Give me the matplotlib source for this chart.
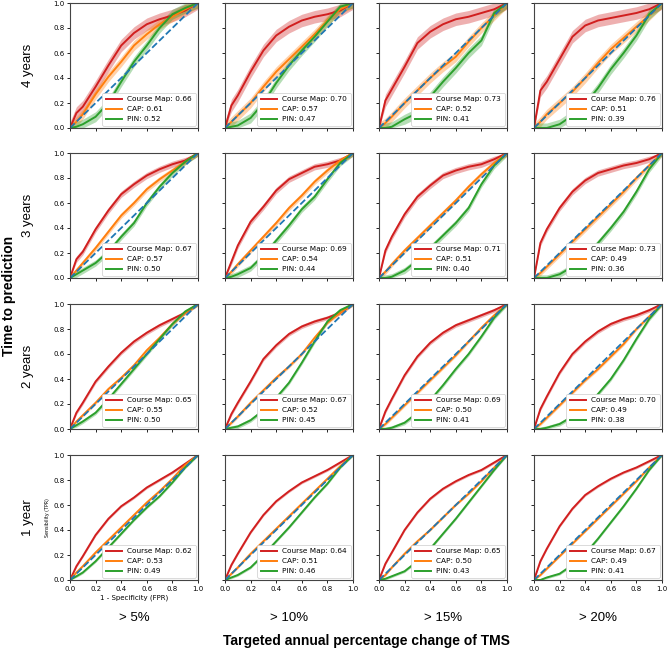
import matplotlib
matplotlib.use("Agg")
import matplotlib.pyplot as plt
import numpy as np

plt.rcParams['font.family'] = ['DejaVu Sans']
LAB_FONT = ['Liberation Sans', 'DejaVu Sans']

rows = ["4 years", "3 years", "2 years", "1 year"]
cols = ["> 5%", "> 10%", "> 15%", "> 20%"]
fpr = [0, 0.05, 0.1, 0.2, 0.3, 0.4, 0.5, 0.6, 0.7, 0.8, 0.9, 1.0]

# TPR values: [row][col]
cm_tpr = [
    [[0, 0.12, 0.17, 0.33, 0.50, 0.66, 0.76, 0.83, 0.87, 0.90, 0.94, 1.0],
     [0, 0.18, 0.26, 0.45, 0.62, 0.74, 0.81, 0.86, 0.89, 0.91, 0.94, 1.0],
     [0, 0.22, 0.31, 0.49, 0.68, 0.77, 0.83, 0.87, 0.89, 0.92, 0.95, 1.0],
     [0, 0.30, 0.37, 0.55, 0.73, 0.82, 0.86, 0.88, 0.90, 0.92, 0.95, 1.0]],
    [[0, 0.15, 0.21, 0.39, 0.54, 0.67, 0.75, 0.82, 0.87, 0.91, 0.94, 1.0],
     [0, 0.13, 0.26, 0.45, 0.57, 0.70, 0.79, 0.84, 0.89, 0.91, 0.94, 1.0],
     [0, 0.22, 0.33, 0.51, 0.65, 0.74, 0.82, 0.86, 0.89, 0.91, 0.95, 1.0],
     [0, 0.28, 0.39, 0.56, 0.69, 0.78, 0.84, 0.87, 0.90, 0.92, 0.95, 1.0]],
    [[0, 0.13, 0.21, 0.38, 0.50, 0.61, 0.70, 0.77, 0.83, 0.88, 0.93, 1.0],
     [0, 0.12, 0.21, 0.38, 0.56, 0.67, 0.76, 0.82, 0.86, 0.89, 0.93, 1.0],
     [0, 0.14, 0.24, 0.43, 0.58, 0.69, 0.77, 0.83, 0.87, 0.91, 0.95, 1.0],
     [0, 0.16, 0.26, 0.45, 0.60, 0.70, 0.78, 0.84, 0.88, 0.91, 0.95, 1.0]],
    [[0, 0.11, 0.19, 0.36, 0.49, 0.59, 0.66, 0.74, 0.80, 0.86, 0.93, 1.0],
     [0, 0.12, 0.21, 0.38, 0.52, 0.63, 0.71, 0.78, 0.83, 0.88, 0.94, 1.0],
     [0, 0.13, 0.22, 0.40, 0.54, 0.65, 0.73, 0.79, 0.84, 0.88, 0.94, 1.0],
     [0, 0.15, 0.25, 0.43, 0.57, 0.68, 0.75, 0.81, 0.86, 0.90, 0.95, 1.0]],
]
cap_tpr = [
    [[0, 0.05, 0.11, 0.27, 0.41, 0.53, 0.66, 0.75, 0.83, 0.89, 0.95, 1.0],
     [0, 0.05, 0.10, 0.20, 0.33, 0.45, 0.55, 0.65, 0.75, 0.86, 0.95, 1.0],
     [0, 0.04, 0.09, 0.20, 0.30, 0.40, 0.49, 0.57, 0.69, 0.80, 0.90, 1.0],
     [0, 0.05, 0.11, 0.20, 0.29, 0.40, 0.52, 0.63, 0.72, 0.81, 0.90, 1.0]],
    [[0, 0.06, 0.12, 0.24, 0.37, 0.50, 0.60, 0.71, 0.79, 0.86, 0.93, 1.0],
     [0, 0.05, 0.11, 0.22, 0.33, 0.44, 0.56, 0.66, 0.77, 0.86, 0.94, 1.0],
     [0, 0.05, 0.11, 0.22, 0.32, 0.42, 0.52, 0.62, 0.73, 0.83, 0.92, 1.0],
     [0, 0.04, 0.09, 0.19, 0.29, 0.39, 0.49, 0.59, 0.69, 0.80, 0.90, 1.0]],
    [[0, 0.06, 0.11, 0.21, 0.32, 0.41, 0.51, 0.63, 0.73, 0.84, 0.93, 1.0],
     [0, 0.05, 0.10, 0.21, 0.31, 0.41, 0.50, 0.60, 0.73, 0.85, 0.93, 1.0],
     [0, 0.04, 0.09, 0.19, 0.29, 0.39, 0.49, 0.59, 0.70, 0.81, 0.91, 1.0],
     [0, 0.04, 0.09, 0.19, 0.29, 0.39, 0.48, 0.58, 0.68, 0.80, 0.90, 1.0]],
    [[0, 0.06, 0.11, 0.22, 0.32, 0.42, 0.52, 0.62, 0.71, 0.81, 0.92, 1.0],
     [0, 0.05, 0.10, 0.21, 0.31, 0.41, 0.51, 0.61, 0.71, 0.81, 0.91, 1.0],
     [0, 0.04, 0.10, 0.21, 0.31, 0.40, 0.50, 0.60, 0.69, 0.79, 0.90, 1.0],
     [0, 0.04, 0.09, 0.19, 0.29, 0.39, 0.49, 0.59, 0.69, 0.79, 0.90, 1.0]],
]
pin_tpr = [
    [[0, 0.01, 0.03, 0.09, 0.20, 0.37, 0.53, 0.66, 0.80, 0.91, 0.96, 1.0],
     [0, 0.01, 0.02, 0.08, 0.20, 0.36, 0.50, 0.62, 0.73, 0.85, 0.97, 1.0],
     [0, 0.00, 0.01, 0.07, 0.12, 0.25, 0.37, 0.48, 0.60, 0.70, 0.92, 1.0],
     [0, 0.00, 0.00, 0.03, 0.10, 0.19, 0.32, 0.47, 0.60, 0.74, 0.91, 1.0]],
    [[0, 0.03, 0.06, 0.12, 0.21, 0.33, 0.44, 0.60, 0.73, 0.84, 0.93, 1.0],
     [0, 0.01, 0.03, 0.08, 0.18, 0.30, 0.42, 0.55, 0.65, 0.79, 0.92, 1.0],
     [0, 0.00, 0.01, 0.06, 0.14, 0.24, 0.34, 0.44, 0.56, 0.75, 0.90, 1.0],
     [0, 0.00, 0.00, 0.03, 0.09, 0.17, 0.28, 0.40, 0.53, 0.69, 0.87, 1.0]],
    [[0, 0.03, 0.06, 0.13, 0.24, 0.36, 0.48, 0.60, 0.72, 0.84, 0.94, 1.0],
     [0, 0.01, 0.02, 0.07, 0.15, 0.25, 0.37, 0.53, 0.70, 0.86, 0.95, 1.0],
     [0, 0.00, 0.01, 0.05, 0.13, 0.23, 0.35, 0.48, 0.60, 0.74, 0.89, 1.0],
     [0, 0.00, 0.01, 0.04, 0.10, 0.18, 0.28, 0.40, 0.55, 0.72, 0.88, 1.0]],
    [[0, 0.03, 0.06, 0.15, 0.26, 0.37, 0.48, 0.58, 0.67, 0.78, 0.90, 1.0],
     [0, 0.02, 0.04, 0.10, 0.20, 0.31, 0.42, 0.54, 0.66, 0.77, 0.90, 1.0],
     [0, 0.01, 0.03, 0.07, 0.15, 0.25, 0.37, 0.49, 0.62, 0.75, 0.88, 1.0],
     [0, 0.00, 0.02, 0.05, 0.12, 0.21, 0.33, 0.46, 0.59, 0.73, 0.88, 1.0]],
]
cm_auc = [[0.66, 0.70, 0.73, 0.76], [0.67, 0.69, 0.71, 0.73],
          [0.65, 0.67, 0.69, 0.70], [0.62, 0.64, 0.65, 0.67]]
cap_auc = [[0.61, 0.57, 0.52, 0.51], [0.57, 0.54, 0.51, 0.49],
           [0.55, 0.52, 0.50, 0.49], [0.53, 0.51, 0.50, 0.49]]
pin_auc = [[0.52, 0.47, 0.41, 0.39], [0.50, 0.44, 0.40, 0.36],
           [0.50, 0.45, 0.41, 0.38], [0.49, 0.46, 0.43, 0.41]]
# half-width of confidence bands per row (Course Map, CAP, PIN)
band = [[0.05, 0.04, 0.04], [0.025, 0.022, 0.025],
        [0.016, 0.013, 0.016], [0.01, 0.008, 0.01]]

C_RED = '#d11f1f'
C_ORA = '#ff7f0e'
C_GRN = '#2ca02c'
C_BLU = '#1f77b4'

W, H = 668, 650
fig = plt.figure(figsize=(W / 100, H / 100), dpi=100)

lefts = [70, 225, 379, 534]
tops = [3, 153, 304, 455]
aw, ah = 128, 125

for r in range(4):
    for c in range(4):
        ax = fig.add_axes([lefts[c] / W, 1 - (tops[r] + ah) / H, aw / W, ah / H])
        x = np.array(fpr)
        series = [(cm_tpr, cm_auc, C_RED, "Course Map", 0),
                  (cap_tpr, cap_auc, C_ORA, "CAP", 1),
                  (pin_tpr, pin_auc, C_GRN, "PIN", 2)]
        for data, auc, col, name, k in series:
            y = np.array(data[r][c])
            b = band[r][k]
            ax.fill_between(x, np.clip(y - b, 0, 1), np.clip(y + b, 0, 1),
                            color=col, alpha=0.35, lw=0)
            ax.plot(x, y, color=col, lw=1.4, label=f"{name}: {auc[r][c]:.2f}")
        ax.plot([0, 1], [0, 1], color=C_BLU, lw=1.3, ls='--')
        ax.set_xlim(0, 1)
        ax.set_ylim(0, 1)
        ax.set_xticks(np.arange(0, 1.01, 0.2))
        ax.set_yticks(np.arange(0, 1.01, 0.2))
        ax.tick_params(labelsize=5, length=2.5, width=0.6, pad=1.5)
        for s in ax.spines.values():
            s.set_linewidth(0.8)
            s.set_color('#444444')
        if r < 3:
            ax.set_xticklabels([])
        if c > 0:
            ax.set_yticklabels([])
        leg = ax.legend(loc='lower right', fontsize=5.3, handlelength=2.2,
                        borderpad=0.5, labelspacing=0.5, handletextpad=0.7,
                        borderaxespad=0.3, framealpha=1)
        leg.get_frame().set_linewidth(0.5)
        if r == 3 and c == 0:
            ax.set_xlabel("1 - Specificity (FPR)", fontsize=5, labelpad=2)
            ax.set_ylabel("Sensibility (TPR)", fontsize=3.4, labelpad=2)
        if c == 0:
            fig.text(28 / W, 1 - (tops[r] + ah / 2) / H, rows[r], rotation=90,
                     ha='center', va='center', fontsize=9.5, family=LAB_FONT)
        if r == 3:
            fig.text((lefts[c] + aw / 2) / W, 1 - 618 / H, cols[c],
                     ha='center', va='center', fontsize=9.5, family=LAB_FONT)

fig.text(366 / W, 1 - 641 / H, "Targeted annual percentage change of TMS",
         ha='center', va='center', fontsize=10, fontweight='bold', family=LAB_FONT)
fig.text(9 / W, 1 - 296 / H, "Time to prediction", rotation=90,
         ha='center', va='center', fontsize=10, fontweight='bold', family=LAB_FONT)

fig.savefig("out.png", dpi=100)
